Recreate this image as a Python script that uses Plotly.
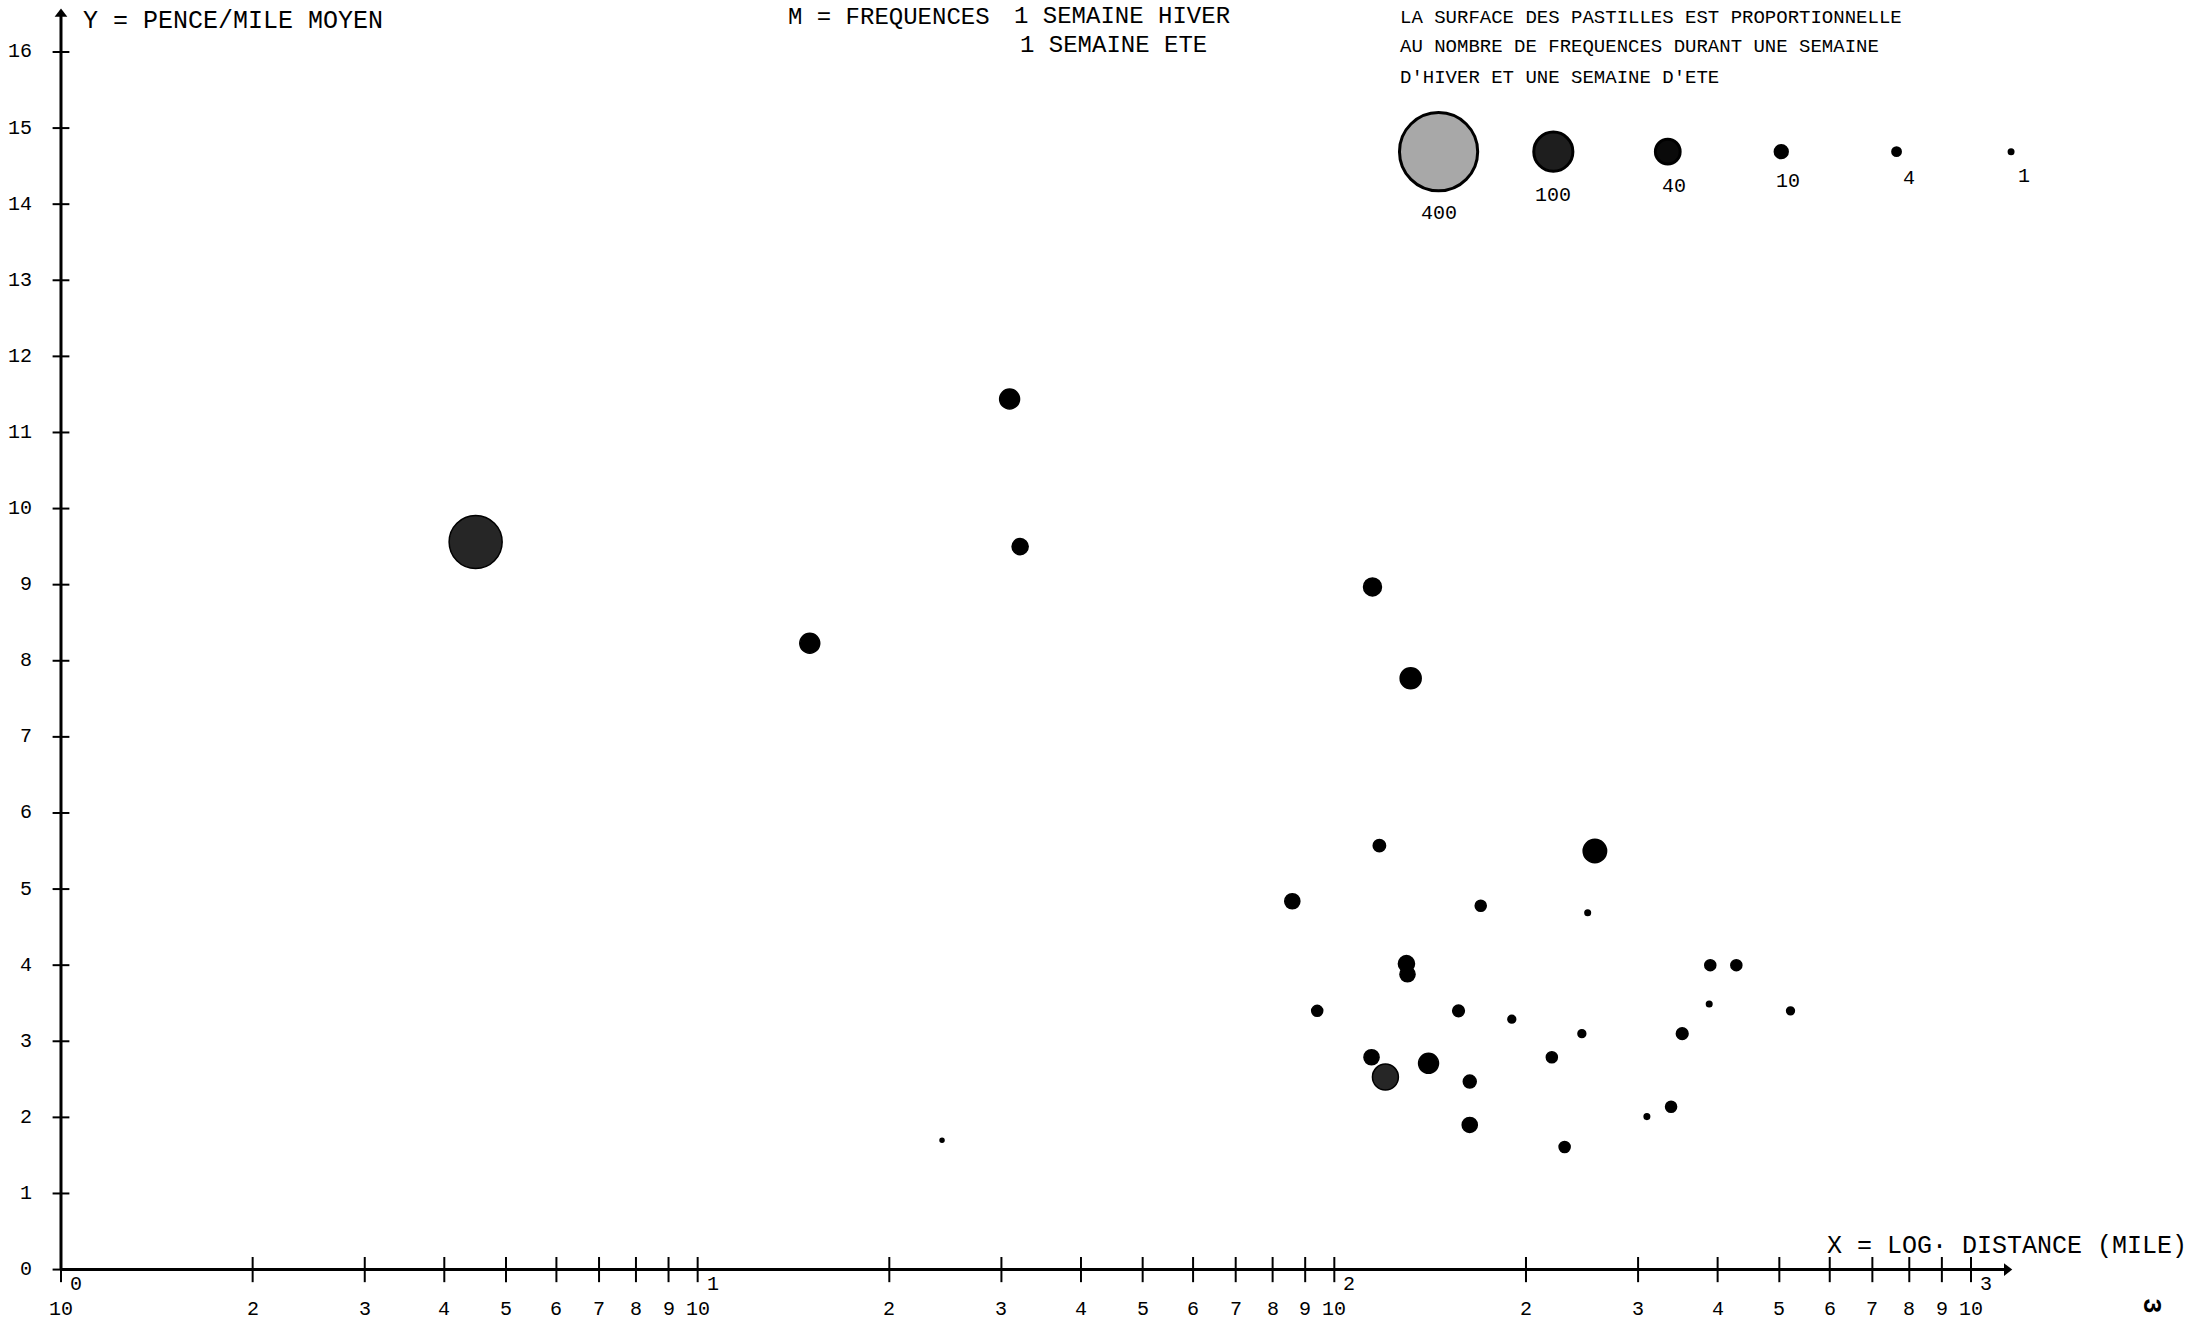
import math
import plotly.graph_objects as go

# ---------------- data ----------------
distance_miles = [4.48, 15.0, 30.9, 32.1, 114.8, 131.8, 117.7, 85.9,
                  256.6, 169.8, 250.0, 129.8, 130.3, 94.0, 156.7, 190.0,
                  244.8, 351.9, 389.5, 428.0, 388.0, 520.6, 114.4, 120.3,
                  140.6, 163.2, 163.2, 219.6, 309.7, 338.0, 230.0, 24.2]
pence_per_mile = [9.56, 8.23, 11.44, 9.50, 8.97, 7.77, 5.57, 4.84,
                  5.50, 4.78, 4.69, 4.02, 3.88, 3.40, 3.40, 3.29,
                  3.10, 3.10, 4.00, 4.00, 3.49, 3.40, 2.79, 2.53,
                  2.71, 2.47, 1.90, 2.79, 2.01, 2.14, 1.61, 1.70]
frequencies = [184, 26, 26, 17, 21, 29, 10, 15,
               36, 8, 2, 17, 15, 8, 9, 4,
               4, 9, 8, 8, 2, 4, 15, 44,
               26, 11, 15, 8, 2, 8, 8, 1]

legend_sizes = [400, 100, 40, 10, 4, 1]
legend_labels = ["400", "100", "40", "10", "4", "1"]

x_tick_values = [1, 2, 3, 4, 5, 6, 7, 8, 9,
                 10, 20, 30, 40, 50, 60, 70, 80, 90,
                 100, 200, 300, 400, 500, 600, 700, 800, 900, 1000]
x_tick_labels = ["10", "2", "3", "4", "5", "6", "7", "8", "9",
                 "10", "2", "3", "4", "5", "6", "7", "8", "9",
                 "10", "2", "3", "4", "5", "6", "7", "8", "9", "10"]
x_decades = [1, 10, 100, 1000]
x_exponents = ["0", "1", "2", "3"]
y_tick_values = list(range(0, 17))
y_tick_labels = [str(v) for v in y_tick_values]

# ---------------- layout helpers ----------------
W, H = 2190, 1322
FONT = "Liberation Mono"
SIZEREF = 0.1308          # diameter ~ 3.9 * sqrt(N) px
legend_x = [145.8, 220.8, 334.0, 503.5, 764.0, 1156.0]
legend_y = 14.69
x_axis_end = 1138
y_axis_end = 16.5


def px(xp):
    return xp / W


def py(yp):
    return 1 - yp / H


fig = go.Figure()

# axes lines
fig.add_trace(go.Scatter(x=[1, x_axis_end], y=[0, 0], mode="lines",
                         line=dict(color="black", width=3), hoverinfo="skip"))
fig.add_trace(go.Scatter(x=[1, 1], y=[0, y_axis_end], mode="lines",
                         line=dict(color="black", width=3), hoverinfo="skip"))
# arrow heads
fig.add_trace(go.Scatter(x=[x_axis_end], y=[0], mode="markers",
                         marker=dict(symbol="triangle-right", size=11, color="black",
                                     opacity=1),
                         hoverinfo="skip"))
fig.add_trace(go.Scatter(x=[1], y=[y_axis_end], mode="markers",
                         marker=dict(symbol="triangle-up", size=11, color="black",
                                     opacity=1),
                         hoverinfo="skip"))
# tick marks
fig.add_trace(go.Scatter(x=x_tick_values, y=[0] * len(x_tick_values), mode="markers",
                         marker=dict(symbol="line-ns", size=18, opacity=1,
                                     line=dict(color="black", width=2)),
                         hoverinfo="skip"))
fig.add_trace(go.Scatter(x=[1] * len(y_tick_values), y=y_tick_values, mode="markers",
                         marker=dict(symbol="line-ew", size=12, opacity=1,
                                     line=dict(color="black", width=2)),
                         hoverinfo="skip"))

# data bubbles
colors = ["#262626" if f >= 40 else "#000000" for f in frequencies]
fig.add_trace(go.Scatter(
    x=distance_miles, y=pence_per_mile, mode="markers",
    marker=dict(size=frequencies, sizemode="area", sizeref=SIZEREF, sizemin=2,
                opacity=1, color=colors, line=dict(color="black", width=1.5)),
))

# legend bubbles
legend_colors = ["#a8a8a8", "#1e1e1e", "#0a0a0a", "black", "black", "black"]
fig.add_trace(go.Scatter(
    x=legend_x, y=[legend_y] * len(legend_x), mode="markers",
    marker=dict(size=legend_sizes, sizemode="area", sizeref=SIZEREF, sizemin=2,
                opacity=1, color=legend_colors, line=dict(color="black", width=3)),
))

ann = []
# x tick labels
for v, t in zip(x_tick_values, x_tick_labels):
    ann.append(dict(x=math.log10(v), y=0, xref="x", yref="y", text=t,
                    showarrow=False, yshift=-40, xanchor="center", yanchor="middle",
                    font=dict(family=FONT, size=20, color="black")))
for v, t in zip(x_decades, x_exponents):
    ann.append(dict(x=math.log10(v), y=0, xref="x", yref="y", text=t,
                    showarrow=False, yshift=-15, xshift=15, xanchor="center",
                    yanchor="middle",
                    font=dict(family=FONT, size=20, color="black")))
# y tick labels
for v, t in zip(y_tick_values, y_tick_labels):
    ann.append(dict(x=0, y=v, xref="x", yref="y", text=t, showarrow=False,
                    xshift=-27, xanchor="right", yanchor="middle",
                    font=dict(family=FONT, size=20, color="black")))
# legend labels
lab_offsets = [(0, -62), (0, -44), (6, -35), (7, -30), (12, -27), (13, -25)]
for xv, t, (dx, dy) in zip(legend_x, legend_labels, lab_offsets):
    ann.append(dict(x=math.log10(xv), y=legend_y, xref="x", yref="y", text=t,
                    showarrow=False, xshift=dx, yshift=dy, xanchor="center",
                    yanchor="middle",
                    font=dict(family=FONT, size=20, color="black")))

# titles / texts
def text(x, y, t, size, anchor="left"):
    ann.append(dict(x=px(x), y=py(y), xref="paper", yref="paper", text=t,
                    showarrow=False, xanchor=anchor, yanchor="middle",
                    font=dict(family=FONT, size=size, color="black")))

text(81, 21, "Y = PENCE/MILE MOYEN", 25)
text(786, 17, "M = FREQUENCES", 24)
text(1012, 16, "1 SEMAINE HIVER", 24)
text(1018, 45, "1 SEMAINE ETE", 24)
text(1398, 18, "LA SURFACE DES PASTILLES EST PROPORTIONNELLE", 19)
text(1398, 47, "AU NOMBRE DE FREQUENCES DURANT UNE SEMAINE", 19)
text(1398, 78, "D'HIVER ET UNE SEMAINE D'ETE", 19)
text(1825, 1246, "X = LOG\u00b7 DISTANCE (MILE)", 25)
ann.append(dict(x=px(2151), y=py(1306), xref="paper", yref="paper", text="<b>3</b>",
                showarrow=False, textangle=90, xanchor="center", yanchor="middle",
                font=dict(family=FONT, size=26, color="black")))

fig.update_layout(
    width=W, height=H,
    margin=dict(l=0, r=0, t=0, b=0),
    paper_bgcolor="white", plot_bgcolor="white",
    showlegend=False,
    xaxis=dict(type="log", range=[-0.0958, 3.344], visible=False),
    yaxis=dict(range=[-0.689, 16.683], visible=False),
    annotations=ann,
)

fig.write_html("out.html")
